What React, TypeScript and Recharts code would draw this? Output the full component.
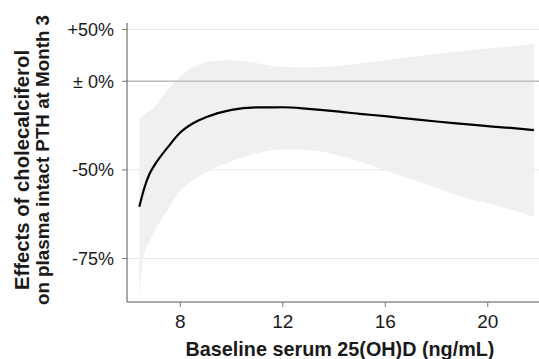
import {
  Area,
  CartesianGrid,
  ComposedChart,
  Line,
  ReferenceLine,
  XAxis,
  YAxis,
} from "recharts";

const FONT = "'Liberation Sans', Arial, sans-serif";
const INK = "#1a1a1a";

// baseline serum 25(OH)D, ng/mL
const vitD = [6.4, 6.6, 6.8, 7, 7.5, 8, 8.5, 9, 10, 11, 12, 13, 14, 15, 16, 17, 18, 19, 20, 21, 21.8];
// effect on intact PTH, % change
const effect = [-62.5, -56.5, -51.5, -48, -40.5, -33, -28, -24.5, -20, -18.5, -18.4, -19.4, -20.8, -22.5, -23.9, -25.5, -27, -28.3, -29.6, -30.7, -31.8];
const upper = [-25.3, -23, -20.5, -18, -6.5, 4, 11.5, 16, 17.8, 15.2, 11.8, 11.5, 12.5, 14.8, 17.8, 21, 24, 26.5, 29.1, 31.5, 34.2];
const lower = [-81.3, -73.8, -71.5, -69, -63.5, -57.5, -53.8, -51, -46.5, -43, -41.4, -41.6, -43.5, -46.5, -50.1, -53.4, -56.5, -59.5, -61.5, -63.5, -65.3];

const xTicks = [8, 12, 16, 20];
const yTicks = [-75, -50, 0, 50];

// ratio scale: plotted as (1 + change), on a log axis
const toRatio = (p: number) => 1 + p / 100;
const data = vitD.map((x, i) => ({
  x,
  fit: toRatio(effect[i]),
  band: [toRatio(lower[i]), toRatio(upper[i])],
}));

const fmtPct = (r: number) => {
  const p = Math.round((r - 1) * 100);
  if (p === 0) return "\u00B1 0%";
  return p > 0 ? `+${p}%` : `${p}%`;
};

function YTitle() {
  return (
    <g fontFamily={FONT} fontWeight="bold" fill={INK}>
      <text
        x={28.5}
        y={170}
        transform="rotate(-90 28.5 170)"
        textAnchor="middle"
        fontSize={20.3}
      >
        Effects of cholecalciferol
      </text>
      <text
        x={48.5}
        y={160}
        transform="rotate(-90 48.5 160)"
        textAnchor="middle"
        fontSize={18.8}
      >
        on plasma intact PTH at Month 3
      </text>
    </g>
  );
}

export default function App() {
  return (
    <div style={{ position: "absolute", left: 0, top: 0, background: "#fff" }}>
      <ComposedChart
        width={539}
        height={359}
        data={data}
        margin={{ top: 23, right: 0, left: 0, bottom: 0 }}
      >
        <CartesianGrid vertical={false} stroke="#e6e6e6" horizontalValues={yTicks.map(toRatio)} />
        <XAxis
          dataKey="x"
          type="number"
          domain={[5.92, 22]}
          ticks={xTicks}
          height={57}
          tick={{ fontSize: 19, fill: INK, fontFamily: FONT }}
          tickSize={5}
          tickMargin={8}
          stroke="#555"
          tickLine={{ stroke: "#777" }}
          allowDataOverflow
          label={{
            content: () => (
              <text
                x={340}
                y={355.5}
                textAnchor="middle"
                fontFamily={FONT}
                fontWeight="bold"
                fontSize={19.8}
                fill={INK}
              >
                Baseline serum 25(OH)D (ng/mL)
              </text>
            ),
          }}
        />
        <YAxis
          scale="log"
          type="number"
          domain={[0.178, 1.577]}
          ticks={yTicks.map(toRatio)}
          tickFormatter={fmtPct}
          width={127}
          tick={{ fontSize: 18, fill: INK, fontFamily: FONT }}
          tickSize={5}
          tickMargin={8}
          stroke="#555"
          tickLine={{ stroke: "#777" }}
          allowDataOverflow
          label={{ content: () => <YTitle /> }}
        />
        <Area
          dataKey="band"
          type="monotone"
          fill="#f0f0f0"
          fillOpacity={1}
          stroke="none"
          isAnimationActive={false}
        />
        <ReferenceLine y={1} stroke="#bdbdbd" strokeWidth={1.5} />
        <Line
          dataKey="fit"
          type="monotone"
          stroke="#000"
          strokeWidth={2.2}
          dot={false}
          isAnimationActive={false}
        />
      </ComposedChart>
    </div>
  );
}
